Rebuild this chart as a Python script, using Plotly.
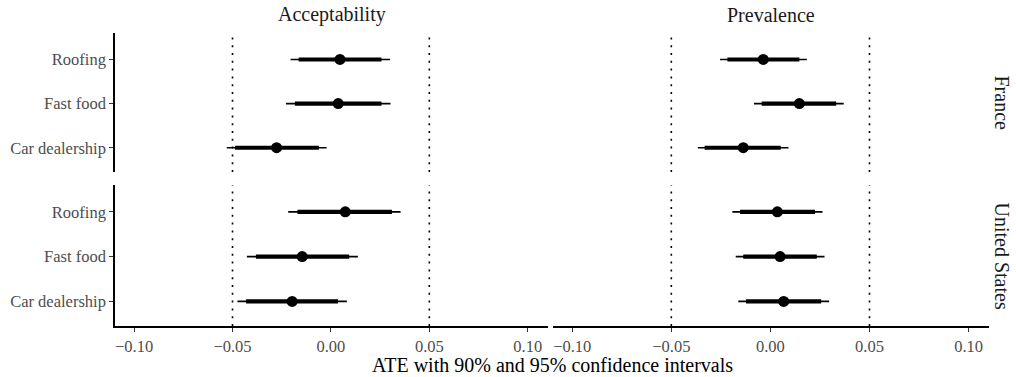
import plotly.graph_objects as go

# ---- data ----
categories = ["Car dealership", "Fast food", "Roofing"]
outcomes = ["Acceptability", "Prevalence"]
countries = ["France", "United States"]

# ATE estimates (order follows `categories`)
fr_acc_est = [-0.0276, 0.0037, 0.0046]
fr_acc_lo95 = [-0.0529, -0.0228, -0.0205]
fr_acc_hi95 = [-0.0022, 0.0303, 0.0300]
fr_acc_lo90 = [-0.0487, -0.0183, -0.0164]
fr_acc_hi90 = [-0.0061, 0.0257, 0.0257]

fr_prev_est = [-0.0137, 0.0146, -0.0036]
fr_prev_lo95 = [-0.0366, -0.0083, -0.0254]
fr_prev_hi95 = [0.0091, 0.0370, 0.0184]
fr_prev_lo90 = [-0.0332, -0.0044, -0.0217]
fr_prev_hi90 = [0.0052, 0.0332, 0.0146]

us_acc_est = [-0.0197, -0.0146, 0.0073]
us_acc_lo95 = [-0.0475, -0.0427, -0.0217]
us_acc_hi95 = [0.0081, 0.0137, 0.0354]
us_acc_lo90 = [-0.0431, -0.0381, -0.0170]
us_acc_hi90 = [0.0036, 0.0093, 0.0310]

us_prev_est = [0.0067, 0.0049, 0.0035]
us_prev_lo95 = [-0.0162, -0.0175, -0.0192]
us_prev_hi95 = [0.0296, 0.0273, 0.0263]
us_prev_lo90 = [-0.0123, -0.0137, -0.0153]
us_prev_hi90 = [0.0256, 0.0234, 0.0225]

x_ticks = [-0.10, -0.05, 0.00, 0.05, 0.10]
x_tick_text = ["\u22120.10", "\u22120.05", "0.00", "0.05", "0.10"]
ref_lines = [-0.05, 0.05]
x_title = "ATE with 90% and 95% confidence intervals"

panels = [
    # (xaxis id, yaxis id, est, lo95, hi95, lo90, hi90)
    ("x", "y", fr_acc_est, fr_acc_lo95, fr_acc_hi95, fr_acc_lo90, fr_acc_hi90),
    ("x2", "y2", fr_prev_est, fr_prev_lo95, fr_prev_hi95, fr_prev_lo90, fr_prev_hi90),
    ("x3", "y3", us_acc_est, us_acc_lo95, us_acc_hi95, us_acc_lo90, us_acc_hi90),
    ("x4", "y4", us_prev_est, us_prev_lo95, us_prev_hi95, us_prev_lo90, us_prev_hi90),
]

FONT = "Liberation Serif, Times New Roman, serif"
W, H = 1016, 377
TICK_SIZE = 16.5
STRIP_SIZE = 20
TITLE_SIZE = 20

fig = go.Figure()

for xa, ya, est, lo95, hi95, lo90, hi90 in panels:
    # thin 95% CI
    xs, ys = [], []
    for c, l, h in zip(categories, lo95, hi95):
        xs += [l, h, None]
        ys += [c, c, None]
    fig.add_trace(go.Scatter(x=xs, y=ys, mode="lines", xaxis=xa, yaxis=ya,
                             line=dict(color="black", width=1.6), showlegend=False, hoverinfo="skip"))
    # thick 90% CI
    xs, ys = [], []
    for c, l, h in zip(categories, lo90, hi90):
        xs += [l, h, None]
        ys += [c, c, None]
    fig.add_trace(go.Scatter(x=xs, y=ys, mode="lines", xaxis=xa, yaxis=ya,
                             line=dict(color="black", width=4.2), showlegend=False, hoverinfo="skip"))
    # point estimate
    fig.add_trace(go.Scatter(x=est, y=categories, mode="markers", xaxis=xa, yaxis=ya,
                             marker=dict(color="black", size=11), showlegend=False))
    for v in ref_lines:
        fig.add_shape(type="line", xref=xa, yref=f"{ya} domain", x0=v, x1=v, y0=0, y1=1,
                      line=dict(color="black", width=1.6, dash="2px,5.8px"), layer="below")

# domains
xl = [115 / W, 548 / W]
xr = [553 / W, 989 / W]
yt = [1 - 172 / H, 1 - 33 / H]
yb = [1 - 326 / H, 1 - 185 / H]

xr_range = [-0.1097, 0.1103]

def xaxis(domain, anchor, bottom):
    d = dict(domain=domain, anchor=anchor, range=xr_range, tickvals=x_ticks,
             ticktext=x_tick_text, showgrid=False, zeroline=False, automargin=False)
    if bottom:
        d.update(showline=True, linecolor="black", linewidth=1.5, ticks="outside",
                 ticklen=4, tickwidth=1, tickcolor="#333333", showticklabels=True,
                 tickfont=dict(family=FONT, size=TICK_SIZE, color="#4d4d4d"))
    else:
        d.update(showline=False, ticks="", showticklabels=False)
    return d

def yaxis(domain, anchor, left):
    d = dict(domain=domain, anchor=anchor, type="category", categoryorder="array",
             categoryarray=categories, range=[-0.55, 2.6], showgrid=False, zeroline=False,
             automargin=False)
    if left:
        d.update(showline=True, linecolor="black", linewidth=1.5, ticks="outside",
                 ticklen=4, tickwidth=1, tickcolor="#333333", showticklabels=True,
                 tickfont=dict(family=FONT, size=TICK_SIZE, color="#4d4d4d"))
    else:
        d.update(showline=False, ticks="", showticklabels=False)
    return d

fig.update_layout(
    width=W, height=H,
    margin=dict(l=0, r=0, t=0, b=0),
    paper_bgcolor="white", plot_bgcolor="white",
    font=dict(family=FONT, color="black"),
    xaxis=xaxis(xl, "y", False),
    xaxis2=xaxis(xr, "y2", False),
    xaxis3=xaxis(xl, "y3", True),
    xaxis4=xaxis(xr, "y4", True),
    yaxis=yaxis(yt, "x", True),
    yaxis2=yaxis(yt, "x2", False),
    yaxis3=yaxis(yb, "x3", True),
    yaxis4=yaxis(yb, "x4", False),
    showlegend=False,
)

common = dict(xref="paper", yref="paper", showarrow=False, xanchor="center", yanchor="middle")
ann = [
    dict(text=outcomes[0], x=(xl[0] + xl[1]) / 2, y=1 - 15 / H,
         font=dict(family=FONT, size=STRIP_SIZE, color="#1a1a1a"), **common),
    dict(text=outcomes[1], x=(xr[0] + xr[1]) / 2, y=1 - 15 / H,
         font=dict(family=FONT, size=STRIP_SIZE, color="#1a1a1a"), **common),
    dict(text=countries[0], x=1002 / W, y=(yt[0] + yt[1]) / 2, textangle=90,
         font=dict(family=FONT, size=STRIP_SIZE, color="#1a1a1a"), **common),
    dict(text=countries[1], x=1002 / W, y=(yb[0] + yb[1]) / 2, textangle=90,
         font=dict(family=FONT, size=STRIP_SIZE, color="#1a1a1a"), **common),
    dict(text=x_title, x=(xl[0] + xr[1]) / 2, y=1 - 365 / H,
         font=dict(family=FONT, size=TITLE_SIZE, color="black"), **common),
]
fig.update_layout(annotations=ann)

fig.write_html("out.html", config={"displayModeBar": False},
               post_script="document.body.style.margin='0';document.body.style.overflow='hidden';")
